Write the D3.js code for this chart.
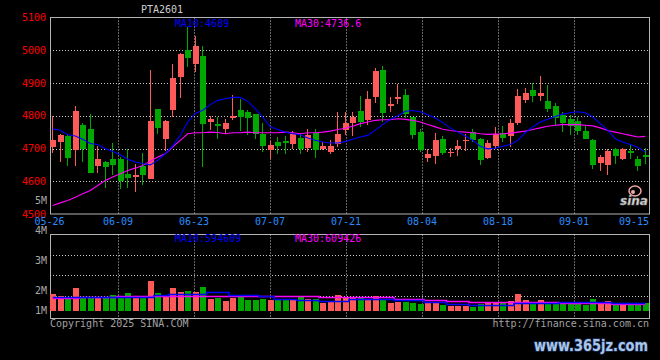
<!DOCTYPE html>
<html>
<head>
<meta charset="utf-8">
<title>PTA2601</title>
<script src="https://cdn.jsdelivr.net/npm/d3@7"></script>
<style>
  body { margin: 0; background: #000; }
  svg { display: block; font-family: "DejaVu Sans Mono", monospace; font-size: 10px; }
</style>
</head>
<body>
<div id="chart"></div>
<script>
// trading days shown on the chart
var dates = ["05-26","05-27","05-28","05-29","05-30","06-03","06-04","06-05","06-06",
  "06-09","06-10","06-11","06-12","06-13","06-16","06-17","06-18","06-19","06-20",
  "06-23","06-24","06-25","06-26","06-27","06-30","07-01","07-02","07-03","07-04",
  "07-07","07-08","07-09","07-10","07-11","07-14","07-15","07-16","07-17","07-18",
  "07-21","07-22","07-23","07-24","07-25","07-28","07-29","07-30","07-31","08-01",
  "08-04","08-05","08-06","08-07","08-08","08-11","08-12","08-13","08-14","08-15",
  "08-18","08-19","08-20","08-21","08-22","08-25","08-26","08-27","08-28","08-29",
  "09-01","09-02","09-03","09-04","09-05","09-08","09-09","09-10","09-11","09-12","09-15"];

var open = [4705,4720,4737,4694,4771,4759,4646,4658,4667,4667,4621,4613,4648,4607,4820,4730,4817,4919,5000,4958,
  4982,4781,4774,4759,4794,4817,4811,4805,4743,4694,4720,4722,4715,4732,4702,4748,4697,4689,4715,4756,
  4779,4814,4786,4858,4939,4830,4852,4863,4796,4750,4671,4677,4730,4687,4699,4722,4750,4730,4671,4708,
  4748,4738,4778,4848,4878,4860,4844,4829,4801,4789,4783,4752,4725,4655,4651,4697,4667,4691,4669,4679];
var high = [4798,4745,4740,4829,4779,4805,4708,4663,4718,4674,4697,4654,4686,4939,4820,4788,4957,4992,5072,5043,
  5013,4798,4796,4789,4863,4850,4817,4805,4779,4722,4735,4737,4753,4745,4759,4761,4720,4725,4810,4810,
  4810,4860,4875,4947,4951,4858,4898,4881,4796,4759,4699,4748,4737,4701,4725,4745,4761,4732,4725,4765,
  4768,4789,4881,4884,4901,4921,4893,4840,4811,4801,4796,4769,4730,4679,4697,4701,4701,4715,4676,4701];
var low = [4686,4659,4648,4648,4659,4625,4625,4579,4620,4577,4579,4567,4589,4607,4745,4691,4796,4855,4949,4934,
  4643,4756,4730,4743,4786,4753,4742,4730,4689,4669,4684,4684,4699,4684,4689,4671,4694,4684,4705,4740,
  4738,4766,4773,4840,4781,4810,4837,4794,4728,4689,4659,4652,4679,4674,4677,4691,4720,4651,4669,4700,
  4720,4705,4771,4839,4842,4845,4812,4773,4750,4742,4740,4728,4636,4630,4618,4652,4664,4667,4630,4654];
var close = [4725,4740,4671,4814,4697,4625,4669,4643,4651,4600,4609,4620,4618,4783,4763,4783,4916,4988,4977,5013,
  4775,4789,4769,4778,4798,4796,4793,4745,4708,4710,4708,4717,4745,4699,4740,4694,4707,4707,4743,4779,
  4796,4781,4850,4936,4809,4837,4858,4805,4740,4694,4682,4725,4686,4689,4707,4725,4725,4664,4716,4745,
  4732,4778,4860,4869,4860,4869,4820,4794,4779,4769,4752,4728,4651,4673,4691,4676,4697,4687,4646,4674];

var ma10 = [4760,4756,4742,4738,4728,4715,4712,4699,4691,4681,4667,4659,4654,4650,4664,4684,4708,4740,4781,4807,
  4817,4834,4847,4852,4856,4856,4844,4822,4796,4766,4758,4750,4745,4742,4732,4725,4720,4717,4717,4721,
  4728,4735,4740,4756,4773,4789,4799,4814,4816,4812,4803,4793,4779,4763,4750,4738,4725,4707,4699,4701,
  4707,4712,4725,4748,4766,4781,4789,4798,4805,4809,4812,4809,4796,4776,4756,4730,4720,4712,4704,4689];
var ma30 = [4526,4534,4541,4551,4562,4572,4587,4602,4613,4623,4633,4640,4648,4661,4674,4684,4705,4725,4745,4748,
  4748,4750,4749,4745,4748,4748,4750,4748,4748,4748,4748,4750,4748,4745,4748,4748,4750,4753,4758,4762,
  4768,4776,4781,4786,4788,4788,4791,4789,4786,4781,4773,4766,4759,4755,4752,4750,4748,4745,4743,4744,
  4745,4747,4750,4753,4758,4763,4768,4771,4773,4773,4773,4771,4769,4763,4755,4750,4745,4740,4735,4737];

// volume in millions, read against the volume axis labels
var volume = [1.89,1.83,1.77,2.10,1.80,1.79,1.77,1.79,1.86,1.79,1.92,1.83,1.83,2.32,1.92,1.83,2.09,1.97,1.99,1.95,
  2.12,1.72,1.76,1.66,1.76,1.83,1.69,1.70,1.72,1.70,1.68,1.68,1.71,1.79,1.72,1.72,1.59,1.62,1.86,1.75,
  1.79,1.79,1.71,1.82,1.69,1.60,1.63,1.63,1.60,1.56,1.58,1.60,1.51,1.50,1.50,1.49,1.47,1.55,1.60,1.60,
  1.58,1.66,1.89,1.69,1.55,1.68,1.60,1.60,1.60,1.55,1.55,1.52,1.72,1.58,1.66,1.55,1.55,1.52,1.52,1.59];
var volMa10 = [1.78,1.78,1.78,1.78,1.79,1.79,1.79,1.79,1.79,1.80,1.80,1.80,1.80,1.80,1.86,1.86,1.89,1.89,1.89,1.89,
  1.89,1.95,1.95,1.95,1.87,1.87,1.87,1.87,1.81,1.81,1.72,1.72,1.72,1.69,1.69,1.69,1.67,1.67,1.67,1.67,
  1.72,1.72,1.72,1.72,1.72,1.72,1.69,1.69,1.69,1.69,1.63,1.63,1.63,1.57,1.57,1.57,1.52,1.52,1.52,1.54,
  1.54,1.54,1.59,1.59,1.59,1.59,1.59,1.59,1.63,1.63,1.63,1.63,1.63,1.63,1.63,1.58,1.58,1.58,1.58,1.58];
var volMa30 = [1.75,1.75,1.75,1.75,1.79,1.79,1.79,1.79,1.79,1.81,1.81,1.81,1.81,1.81,1.82,1.82,1.82,1.82,1.82,1.82,
  1.82,1.82,1.82,1.82,1.83,1.83,1.83,1.83,1.83,1.83,1.81,1.81,1.81,1.81,1.81,1.81,1.79,1.79,1.79,1.79,
  1.78,1.78,1.78,1.78,1.78,1.78,1.71,1.71,1.71,1.71,1.68,1.68,1.68,1.66,1.66,1.66,1.61,1.61,1.61,1.61,
  1.61,1.61,1.61,1.61,1.61,1.61,1.61,1.61,1.59,1.59,1.59,1.59,1.59,1.59,1.59,1.55,1.55,1.55,1.55,1.55];

var priceTicks = [4500, 4600, 4700, 4800, 4900, 5000, 5100];
var volTicks = [1, 2, 3, 4, 5];
var dateTicks = ["05-26","06-09","06-23","07-07","07-21","08-04","08-18","09-01","09-15"];

var W = 660, H = 360;
var left = 50, right = 649;
var priceTop = 17.5, priceBottom = 214;
var volTop = 234.5, volBottom = 318.5;
var upColor = "#ff5a5a", downColor = "#00a800";
var gridColor = "#c8c8c8", frameColor = "#b4b4b4";

var svg = d3.select("#chart").append("svg")
    .attr("width", W)
    .attr("height", H);

svg.append("rect").attr("width", W).attr("height", H).attr("fill", "#000");

// scales
var x = d3.scaleBand().domain(d3.range(dates.length)).range([left - 1, right]);
var xc = function(i) { return x(i) + x.bandwidth() / 2; };
// the date axis of the original runs on a slightly wider step than the candles
var dateScale = d3.scaleLinear().domain([0, dates.length - 1]).range([49.6, 650]);
var y = d3.scaleLinear().domain([4500, 5100]).range([priceBottom, priceTop]);
var yv = d3.scaleLinear().domain([4 / 3, 5]).range([310.7, 200.7]).clamp(true);
var volGrid = d3.scaleLinear().domain([0, 4]).range([volTop, volTop + 4 * 20.4]);

// frames
svg.append("rect")
    .attr("x", left + 0.5).attr("y", priceTop)
    .attr("width", right - left).attr("height", priceBottom - priceTop)
    .attr("fill", "none").attr("stroke", frameColor);
svg.append("rect")
    .attr("x", left + 0.5).attr("y", volTop)
    .attr("width", right - left).attr("height", volBottom - volTop)
    .attr("fill", "none").attr("stroke", frameColor);

// horizontal grid, price
svg.append("g").selectAll("line")
    .data(priceTicks.slice(1, -1))
  .enter().append("line")
    .attr("x1", left).attr("x2", right)
    .attr("y1", function(d) { return Math.round(y(d)) + 0.5; })
    .attr("y2", function(d) { return Math.round(y(d)) + 0.5; })
    .attr("stroke", gridColor).attr("stroke-dasharray", "1,2");

// horizontal grid, volume
svg.append("g").selectAll("line")
    .data([1, 2, 3])
  .enter().append("line")
    .attr("x1", left).attr("x2", right)
    .attr("y1", function(d) { return Math.round(volGrid(d)) + 0.5; })
    .attr("y2", function(d) { return Math.round(volGrid(d)) + 0.5; })
    .attr("stroke", gridColor).attr("stroke-dasharray", "1,2");

// vertical grid
var gridIdx = dateTicks.slice(1, -1).map(function(d) { return dates.indexOf(d); });
[[priceTop, priceBottom], [volTop, volBottom]].forEach(function(r) {
  svg.append("g").selectAll("line")
      .data(gridIdx)
    .enter().append("line")
      .attr("x1", function(i) { return Math.round(dateScale(i)) + 0.5; })
      .attr("x2", function(i) { return Math.round(dateScale(i)) + 0.5; })
      .attr("y1", r[0]).attr("y2", r[1])
      .attr("stroke", gridColor).attr("stroke-dasharray", "1,2");
});

// sina logo watermark
var logo = svg.append("g");
logo.append("ellipse").attr("cx", 635).attr("cy", 191).attr("rx", 6).attr("ry", 5)
    .attr("fill", "none").attr("stroke", "#f2a8a8").attr("stroke-width", 1.5);
logo.append("circle").attr("cx", 633).attr("cy", 192).attr("r", 2).attr("fill", "#f2a8a8");
logo.append("text").attr("x", 620).attr("y", 205)
    .attr("font-family", "DejaVu Sans").attr("font-weight", "bold").attr("font-style", "italic")
    .attr("font-size", 12).attr("fill", "#d8d8d8").attr("stroke", "#888").attr("stroke-width", 0.5)
    .text("sina");

// candles
var idx = d3.range(dates.length);
var candles = svg.append("g").attr("shape-rendering", "crispEdges");
candles.selectAll("line")
    .data(idx)
  .enter().append("line")
    .attr("x1", function(i) { return Math.floor(xc(i)) + 0.5; })
    .attr("x2", function(i) { return Math.floor(xc(i)) + 0.5; })
    .attr("y1", function(i) { return y(high[i]); })
    .attr("y2", function(i) { return y(low[i]); })
    .attr("stroke", function(i) { return close[i] >= open[i] ? upColor : downColor; });
candles.selectAll("rect")
    .data(idx)
  .enter().append("rect")
    .attr("x", function(i) { return Math.floor(xc(i)) - 2.5; })
    .attr("width", 6)
    .attr("y", function(i) { return y(Math.max(open[i], close[i])); })
    .attr("height", function(i) { return Math.max(1, Math.abs(y(open[i]) - y(close[i]))); })
    .attr("fill", function(i) { return close[i] >= open[i] ? upColor : downColor; });

// moving averages, price
var line = d3.line().x(function(d, i) { return xc(i); }).y(function(d) { return y(d); });
svg.append("path").attr("d", line(ma30)).attr("fill", "none").attr("stroke", "#ff00ff").attr("stroke-width", 1.1);
svg.append("path").attr("d", line(ma10)).attr("fill", "none").attr("stroke", "#0000ff").attr("stroke-width", 1.1);

// volume bars
svg.append("g").attr("shape-rendering", "crispEdges").selectAll("rect")
    .data(idx)
  .enter().append("rect")
    .attr("x", function(i) { return Math.floor(xc(i)) - 2.5; })
    .attr("width", 6)
    .attr("y", function(i) { return yv(volume[i]); })
    .attr("height", function(i) { return yv(4 / 3) - yv(volume[i]); })
    .attr("fill", function(i) { return close[i] >= open[i] ? upColor : downColor; });

var vline = d3.line().curve(d3.curveStep)
    .x(function(d, i) { return xc(i); }).y(function(d) { return Math.round(yv(d)) + 0.5; });
svg.append("path").attr("d", vline(volMa30)).attr("fill", "none").attr("stroke", "#ff00ff").attr("stroke-width", 1.5);
svg.append("path").attr("d", vline(volMa10)).attr("fill", "none").attr("stroke", "#0000ff").attr("stroke-width", 1.5);

// price axis labels
svg.append("g").selectAll("text")
    .data(priceTicks)
  .enter().append("text")
    .attr("x", 46).attr("y", function(d) { return y(d); })
    .attr("dy", "0.35em").attr("text-anchor", "end")
    .attr("fill", "#ff0000")
    .text(function(d) { return d; });

// volume axis labels
svg.append("g").selectAll("text")
    .data(volTicks)
  .enter().append("text")
    .attr("x", 47).attr("y", function(d) { return yv(d); })
    .attr("dy", "0.35em").attr("text-anchor", "end")
    .attr("fill", "#a8a8a8")
    .text(function(d) { return d + "M"; });

// date labels
svg.append("g").selectAll("text")
    .data(dateTicks)
  .enter().append("text")
    .attr("y", 225)
    .attr("text-anchor", "middle")
    .attr("fill", "#2a8cff")
    .text(function(d) { return d; })
    .attr("x", function(d) {
      var w = this.getComputedTextLength();
      return Math.min(dateScale(dates.indexOf(d)), right - w / 2);
    });

// legends and captions
svg.append("text").attr("x", 162).attr("y", 13).attr("text-anchor", "middle")
    .attr("fill", "#cfcfcf").text("PTA2601");
svg.append("text").attr("x", 175).attr("y", 26.5).attr("fill", "#0000ff").text("MA10:4689");
svg.append("text").attr("x", 295).attr("y", 26.5).attr("fill", "#ff00ff").text("MA30:4736.6");
svg.append("text").attr("x", 175).attr("y", 241.5).attr("fill", "#0000ff").text("MA10:594609");
svg.append("text").attr("x", 295).attr("y", 241.5).attr("fill", "#ff00ff").text("MA30:609426");
svg.append("text").attr("x", 50).attr("y", 326.5).attr("fill", "#a0a0a0").text("Copyright 2025 SINA.COM");
svg.append("text").attr("x", 649).attr("y", 326.5).attr("text-anchor", "end")
    .attr("fill", "#a0a0a0").text("http://finance.sina.com.cn");

// site watermark
svg.append("text").attr("x", 534).attr("y", 351)
    .attr("font-family", "DejaVu Sans").attr("font-weight", "bold").attr("font-size", 15)
    .attr("textLength", 114).attr("lengthAdjust", "spacingAndGlyphs")
    .attr("fill", "#a9c6ea").attr("stroke", "#1b2e55").attr("stroke-width", 1.6)
    .attr("paint-order", "stroke")
    .text("www.365jz.com");
</script>
</body>
</html>
